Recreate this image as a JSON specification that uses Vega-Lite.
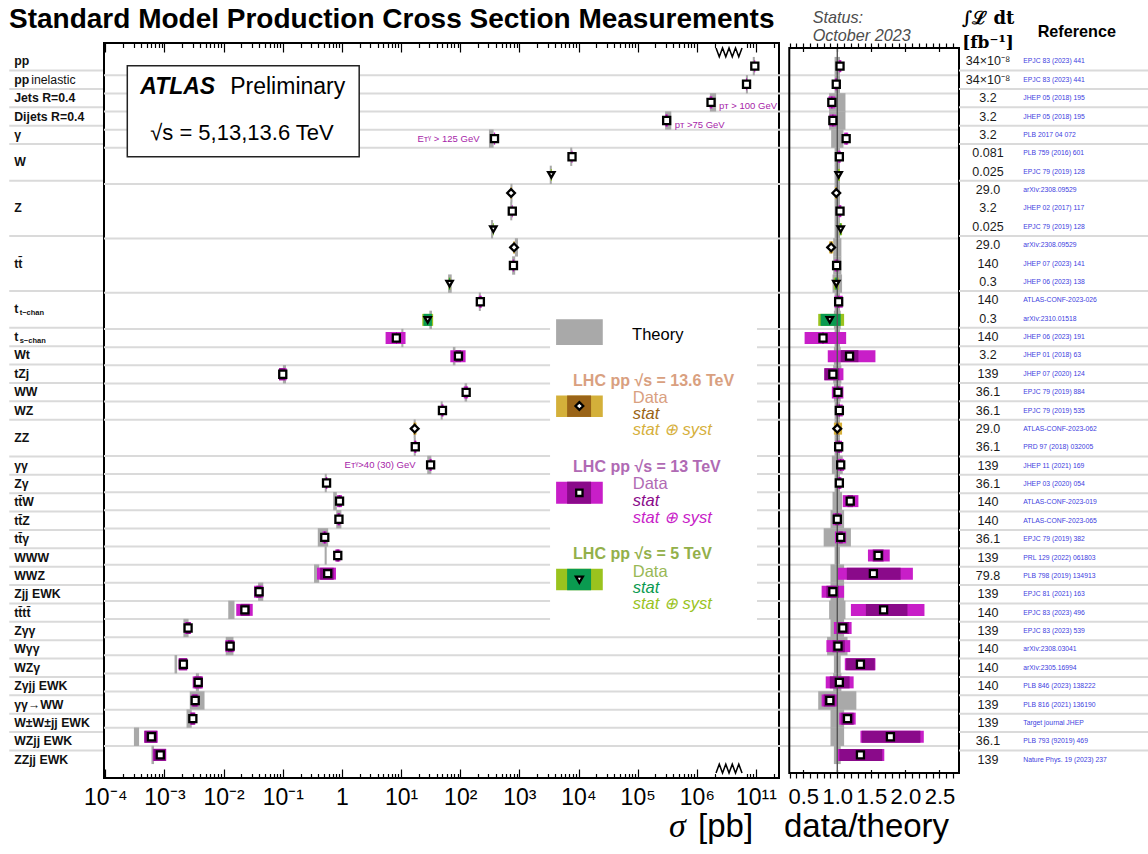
{
  "$schema": "https://vega.github.io/schema/vega-lite/v6.json",
  "background": "white",
  "padding": {"left": 0, "top": 5, "right": 0, "bottom": 0},
  "spacing": 0,
  "bounds": "flush",
  "config": {"view": {"stroke": null}, "font": "Liberation Sans"},
  "datasets": {
    "xs": [
      {"row":0,"proc":"pp","sub":"","note":"","E":"13","sigma":9.55e6,"th_lo":8.82e6,"th_hi":9.55e6,"tot_lo":9.37e6,"tot_hi":9.73e6,"st_lo":9.5e6,"st_hi":9.59e6,"ratio":1.04,"th_rlo":0.96,"th_rhi":1.04,"tot_rlo":1.02,"tot_rhi":1.06,"st_rlo":1.035,"st_rhi":1.045,"lumi":"34×10⁻⁸","ref":"EPJC 83 (2023) 441","cut_r":"","cut_l":""},
      {"row":1,"proc":"pp","sub":"","note":"inelastic","E":"13","sigma":6.92e6,"th_lo":6.75e6,"th_hi":7.31e6,"tot_lo":6.78e6,"tot_hi":7.06e6,"st_lo":6.89e6,"st_hi":6.96e6,"ratio":0.985,"th_rlo":0.96,"th_rhi":1.04,"tot_rlo":0.965,"tot_rhi":1.005,"st_rlo":0.98,"st_rhi":0.99,"lumi":"34×10⁻⁸","ref":"EPJC 83 (2023) 441","cut_r":"","cut_l":""},
      {"row":2,"proc":"Jets R=0.4","sub":"","note":"","E":"13","sigma":1.738e6,"th_lo":1.662e6,"th_hi":2.116e6,"tot_lo":1.643e6,"tot_hi":1.832e6,"st_lo":1.719e6,"st_hi":1.757e6,"ratio":0.92,"th_rlo":0.88,"th_rhi":1.12,"tot_rlo":0.87,"tot_rhi":0.97,"st_rlo":0.91,"st_rhi":0.93,"lumi":"3.2","ref":"JHEP 05 (2018) 195","cut_r":"pᴛ > 100 GeV","cut_l":""},
      {"row":3,"proc":"Dijets R=0.4","sub":"","note":"","E":"13","sigma":3.09e5,"th_lo":2.908e5,"th_hi":3.702e5,"tot_lo":2.925e5,"tot_hi":3.255e5,"st_lo":3.057e5,"st_hi":3.123e5,"ratio":0.935,"th_rlo":0.88,"th_rhi":1.12,"tot_rlo":0.885,"tot_rhi":0.985,"st_rlo":0.925,"st_rhi":0.945,"lumi":"3.2","ref":"JHEP 05 (2018) 195","cut_r":"pᴛ >75 GeV","cut_l":""},
      {"row":4,"proc":"γ","sub":"","note":"","E":"13","sigma":380,"th_lo":306,"th_hi":366.6,"tot_lo":370,"tot_hi":390,"st_lo":378.3,"st_hi":381.7,"ratio":1.13,"th_rlo":0.91,"th_rhi":1.09,"tot_rlo":1.1,"tot_rhi":1.16,"st_rlo":1.125,"st_rhi":1.135,"lumi":"3.2","ref":"PLB 2017 04 072","cut_r":"","cut_l":"Eᴛᵞ > 125 GeV"},
      {"row":5,"proc":"W","sub":"","note":"","E":"13","sigma":7762,"th_lo":7235,"th_hi":7837,"tot_lo":7611,"tot_hi":7913,"st_lo":7747,"st_hi":7777,"ratio":1.03,"th_rlo":0.96,"th_rhi":1.04,"tot_rlo":1.01,"tot_rhi":1.05,"st_rlo":1.028,"st_rhi":1.032,"lumi":"0.081","ref":"PLB 759 (2016) 601","cut_r":"","cut_l":""},
      {"row":6,"proc":"W","sub":"","note":"","E":"5","sigma":3467,"th_lo":3263,"th_hi":3535,"tot_lo":3399,"tot_hi":3535,"st_lo":3460,"st_hi":3474,"ratio":1.02,"th_rlo":0.96,"th_rhi":1.04,"tot_rlo":1.0,"tot_rhi":1.04,"st_rlo":1.018,"st_rhi":1.022,"lumi":"0.025","ref":"EPJC 79 (2019) 128","cut_r":"","cut_l":""},
      {"row":7,"proc":"Z","sub":"","note":"","E":"13.6","sigma":724,"th_lo":705.6,"th_hi":764.4,"tot_lo":709.3,"tot_hi":738.7,"st_lo":722.5,"st_hi":725.4,"ratio":0.985,"th_rlo":0.96,"th_rhi":1.04,"tot_rlo":0.965,"tot_rhi":1.005,"st_rlo":0.983,"st_rhi":0.987,"lumi":"29.0","ref":"arXiv:2308.09529","cut_r":"","cut_l":""},
      {"row":8,"proc":"Z","sub":"","note":"","E":"13","sigma":759,"th_lo":700.6,"th_hi":759,"tot_lo":744.4,"tot_hi":773.6,"st_lo":757.5,"st_hi":760.5,"ratio":1.04,"th_rlo":0.96,"th_rhi":1.04,"tot_rlo":1.02,"tot_rhi":1.06,"st_rlo":1.038,"st_rhi":1.042,"lumi":"3.2","ref":"JHEP 02 (2017) 117","cut_r":"","cut_l":""},
      {"row":9,"proc":"Z","sub":"","note":"","E":"5","sigma":363,"th_lo":331.9,"th_hi":359.5,"tot_lo":356.1,"tot_hi":369.9,"st_lo":361.3,"st_hi":364.7,"ratio":1.05,"th_rlo":0.96,"th_rhi":1.04,"tot_rlo":1.03,"tot_rhi":1.07,"st_rlo":1.045,"st_rhi":1.055,"lumi":"0.025","ref":"EPJC 79 (2019) 128","cut_r":"","cut_l":""},
      {"row":10,"proc":"tt̄","sub":"","note":"","E":"13.6","sigma":813,"th_lo":839.8,"th_hi":947,"tot_lo":786.2,"tot_hi":839.8,"st_lo":804,"st_hi":822,"ratio":0.91,"th_rlo":0.94,"th_rhi":1.06,"tot_rlo":0.88,"tot_rhi":0.94,"st_rlo":0.9,"st_rhi":0.92,"lumi":"29.0","ref":"arXiv:2308.09529","cut_r":"","cut_l":""},
      {"row":11,"proc":"tt̄","sub":"","note":"","E":"13","sigma":794,"th_lo":753.9,"th_hi":850.1,"tot_lo":769.9,"tot_hi":818,"st_lo":790,"st_hi":798,"ratio":0.99,"th_rlo":0.94,"th_rhi":1.06,"tot_rlo":0.96,"tot_rhi":1.02,"st_rlo":0.985,"st_rhi":0.995,"lumi":"140","ref":"JHEP 07 (2023) 141","cut_r":"","cut_l":""},
      {"row":12,"proc":"tt̄","sub":"","note":"","E":"5","sigma":66.1,"th_lo":62.4,"th_hi":71.8,"tot_lo":63.75,"tot_hi":68.4,"st_lo":65.1,"st_hi":67.1,"ratio":0.985,"th_rlo":0.93,"th_rhi":1.07,"tot_rlo":0.95,"tot_rhi":1.02,"st_rlo":0.97,"st_rhi":1.0,"lumi":"0.3","ref":"JHEP 06 (2023) 138","cut_r":"","cut_l":""},
      {"row":13,"proc":"t","sub":"t−chan","note":"","E":"13","sigma":219,"th_lo":206.1,"th_hi":223.3,"tot_lo":206.1,"tot_hi":231.9,"st_lo":216.9,"st_hi":221.1,"ratio":1.02,"th_rlo":0.96,"th_rhi":1.04,"tot_rlo":0.96,"tot_rhi":1.08,"st_rlo":1.01,"st_rhi":1.03,"lumi":"140","ref":"ATLAS-CONF-2023-026","cut_r":"","cut_l":""},
      {"row":14,"proc":"t","sub":"t−chan","note":"","E":"5","sigma":28.2,"th_lo":30.1,"th_hi":33.3,"tot_lo":22.82,"tot_hi":34.86,"st_lo":23.93,"st_hi":33.27,"ratio":0.89,"th_rlo":0.95,"th_rhi":1.05,"tot_rlo":0.72,"tot_rhi":1.1,"st_rlo":0.755,"st_rhi":1.05,"lumi":"0.3","ref":"arXiv:2310.01518","cut_r":"","cut_l":""},
      {"row":15,"proc":"t","sub":"s−chan","note":"","E":"13","sigma":8.32,"th_lo":10.11,"th_hi":10.95,"tot_lo":5.476,"tot_hi":11.9,"st_lo":8.21,"st_hi":8.42,"ratio":0.79,"th_rlo":0.96,"th_rhi":1.04,"tot_rlo":0.52,"tot_rhi":1.13,"st_rlo":0.78,"st_rhi":0.8,"lumi":"140","ref":"JHEP 06 (2023) 191","cut_r":"","cut_l":""},
      {"row":16,"proc":"Wt","sub":"","note":"","E":"13","sigma":93.3,"th_lo":75.1,"th_hi":83.0,"tot_lo":68.0,"tot_hi":123.3,"st_lo":83.0,"st_hi":103.6,"ratio":1.18,"th_rlo":0.95,"th_rhi":1.05,"tot_rlo":0.86,"tot_rhi":1.56,"st_rlo":1.05,"st_rhi":1.31,"lumi":"3.2","ref":"JHEP 01 (2018) 63","cut_r":"","cut_l":""},
      {"row":17,"proc":"tZj","sub":"","note":"","E":"13","sigma":0.1,"th_lo":0.1006,"th_hi":0.1134,"tot_lo":0.0866,"tot_hi":0.1166,"st_lo":0.0866,"st_hi":0.1102,"ratio":0.935,"th_rlo":0.94,"th_rhi":1.06,"tot_rlo":0.81,"tot_rhi":1.09,"st_rlo":0.81,"st_rhi":1.03,"lumi":"139","ref":"JHEP 07 (2020) 124","cut_r":"","cut_l":""},
      {"row":18,"proc":"WW","sub":"","note":"","E":"13","sigma":126,"th_lo":118.5,"th_hi":131,"tot_lo":114.8,"tot_hi":136,"st_lo":123.5,"st_hi":128.5,"ratio":1.01,"th_rlo":0.95,"th_rhi":1.05,"tot_rlo":0.92,"tot_rhi":1.09,"st_rlo":0.99,"st_rhi":1.03,"lumi":"36.1","ref":"EPJC 79 (2019) 884","cut_r":"","cut_l":""},
      {"row":19,"proc":"WZ","sub":"","note":"","E":"13","sigma":50.1,"th_lo":46.7,"th_hi":50.6,"tot_lo":47.67,"tot_hi":52.53,"st_lo":49.6,"st_hi":50.6,"ratio":1.03,"th_rlo":0.96,"th_rhi":1.04,"tot_rlo":0.98,"tot_rhi":1.08,"st_rlo":1.02,"st_rhi":1.04,"lumi":"36.1","ref":"EPJC 79 (2019) 535","cut_r":"","cut_l":""},
      {"row":20,"proc":"ZZ","sub":"","note":"","E":"13.6","sigma":17.0,"th_lo":16.32,"th_hi":17.68,"tot_lo":16.15,"tot_hi":18.19,"st_lo":16.66,"st_hi":17.34,"ratio":1.0,"th_rlo":0.96,"th_rhi":1.04,"tot_rlo":0.95,"tot_rhi":1.07,"st_rlo":0.98,"st_rhi":1.02,"lumi":"29.0","ref":"ATLAS-CONF-2023-062","cut_r":"","cut_l":""},
      {"row":21,"proc":"ZZ","sub":"","note":"","E":"13","sigma":17.4,"th_lo":16.38,"th_hi":17.74,"tot_lo":16.55,"tot_hi":18.25,"st_lo":17.06,"st_hi":17.74,"ratio":1.02,"th_rlo":0.96,"th_rhi":1.04,"tot_rlo":0.97,"tot_rhi":1.07,"st_rlo":1.0,"st_rhi":1.04,"lumi":"36.1","ref":"PRD 97 (2018) 032005","cut_r":"","cut_l":""},
      {"row":22,"proc":"γγ","sub":"","note":"","E":"13","sigma":31.6,"th_lo":27.69,"th_hi":32.51,"tot_lo":30.1,"tot_hi":33.1,"st_lo":31.3,"st_hi":31.9,"ratio":1.05,"th_rlo":0.92,"th_rhi":1.08,"tot_rlo":1.0,"tot_rhi":1.1,"st_rlo":1.04,"st_rhi":1.06,"lumi":"139","ref":"JHEP 11 (2021) 169","cut_r":"","cut_l":"Eᴛᵞ>40 (30) GeV"},
      {"row":23,"proc":"Zγ","sub":"","note":"","E":"13","sigma":0.55,"th_lo":0.5126,"th_hi":0.5554,"tot_lo":0.534,"tot_hi":0.566,"st_lo":0.547,"st_hi":0.553,"ratio":1.03,"th_rlo":0.96,"th_rhi":1.04,"tot_rlo":1.0,"tot_rhi":1.06,"st_rlo":1.025,"st_rhi":1.035,"lumi":"36.1","ref":"JHEP 03 (2020) 054","cut_r":"","cut_l":""},
      {"row":24,"proc":"tt̄W","sub":"","note":"","E":"13","sigma":0.912,"th_lo":0.7128,"th_hi":0.82,"tot_lo":0.8277,"tot_hi":1.004,"st_lo":0.8813,"st_hi":0.9427,"ratio":1.19,"th_rlo":0.93,"th_rhi":1.07,"tot_rlo":1.08,"tot_rhi":1.31,"st_rlo":1.15,"st_rhi":1.23,"lumi":"140","ref":"ATLAS-CONF-2023-019","cut_r":"","cut_l":""},
      {"row":25,"proc":"tt̄Z","sub":"","note":"","E":"13","sigma":0.891,"th_lo":0.802,"th_hi":0.98,"tot_lo":0.833,"tot_hi":0.944,"st_lo":0.864,"st_hi":0.918,"ratio":1.0,"th_rlo":0.9,"th_rhi":1.1,"tot_rlo":0.935,"tot_rhi":1.06,"st_rlo":0.97,"st_rhi":1.03,"lumi":"140","ref":"ATLAS-CONF-2023-065","cut_r":"","cut_l":""},
      {"row":26,"proc":"tt̄γ","sub":"","note":"","E":"13","sigma":0.513,"th_lo":0.3909,"th_hi":0.5863,"tot_lo":0.4715,"tot_hi":0.5521,"st_lo":0.4984,"st_hi":0.5277,"ratio":1.05,"th_rlo":0.8,"th_rhi":1.2,"tot_rlo":0.965,"tot_rhi":1.13,"st_rlo":1.02,"st_rhi":1.08,"lumi":"36.1","ref":"EPJC 79 (2019) 382","cut_r":"","cut_l":""},
      {"row":27,"proc":"WWW","sub":"","note":"","E":"13","sigma":0.851,"th_lo":0.5106,"th_hi":0.5532,"tot_lo":0.7712,"tot_hi":0.9414,"st_lo":0.8085,"st_hi":0.8935,"ratio":1.6,"th_rlo":0.96,"th_rhi":1.04,"tot_rlo":1.45,"tot_rhi":1.77,"st_rlo":1.52,"st_rhi":1.68,"lumi":"139","ref":"PRL 129 (2022) 061803","cut_r":"","cut_l":""},
      {"row":28,"proc":"WWZ","sub":"","note":"","E":"13","sigma":0.575,"th_lo":0.3382,"th_hi":0.4134,"tot_lo":0.3796,"tot_hi":0.793,"st_lo":0.4284,"st_hi":0.7253,"ratio":1.53,"th_rlo":0.9,"th_rhi":1.1,"tot_rlo":1.01,"tot_rhi":2.11,"st_rlo":1.14,"st_rhi":1.93,"lumi":"79.8","ref":"PLB 798 (2019) 134913","cut_r":"","cut_l":""},
      {"row":29,"proc":"Zjj EWK","sub":"","note":"","E":"13","sigma":0.0398,"th_lo":0.03831,"th_hi":0.04683,"tot_lo":0.03278,"tot_hi":0.04683,"st_lo":0.03576,"st_hi":0.04342,"ratio":0.935,"th_rlo":0.9,"th_rhi":1.1,"tot_rlo":0.77,"tot_rhi":1.1,"st_rlo":0.84,"st_rhi":1.02,"lumi":"139","ref":"EPJC 81 (2021) 163","cut_r":"","cut_l":""},
      {"row":30,"proc":"tt̄tt̄","sub":"","note":"","E":"13","sigma":0.0229,"th_lo":0.01199,"th_hi":0.01527,"tot_lo":0.01636,"tot_hi":0.03108,"st_lo":0.01936,"st_hi":0.02767,"ratio":1.68,"th_rlo":0.88,"th_rhi":1.12,"tot_rlo":1.2,"tot_rhi":2.28,"st_rlo":1.42,"st_rhi":2.03,"lumi":"140","ref":"EPJC 83 (2023) 496","cut_r":"","cut_l":""},
      {"row":31,"proc":"Zγγ","sub":"","note":"","E":"13","sigma":0.00251,"th_lo":0.002092,"th_hi":0.002556,"tot_lo":0.002208,"tot_hi":0.002812,"st_lo":0.002324,"st_hi":0.002719,"ratio":1.08,"th_rlo":0.9,"th_rhi":1.1,"tot_rlo":0.95,"tot_rhi":1.21,"st_rlo":1.0,"st_rhi":1.17,"lumi":"139","ref":"EPJC 83 (2023) 539","cut_r":"","cut_l":""},
      {"row":32,"proc":"Wγγ","sub":"","note":"","E":"13","sigma":0.0129,"th_lo":0.01086,"th_hi":0.01469,"tot_lo":0.01073,"tot_hi":0.0152,"st_lo":0.01188,"st_hi":0.01418,"ratio":1.01,"th_rlo":0.85,"th_rhi":1.15,"tot_rlo":0.84,"tot_rhi":1.19,"st_rlo":0.93,"st_rhi":1.11,"lumi":"140","ref":"arXiv:2308.03041","cut_r":"","cut_l":""},
      {"row":33,"proc":"WZγ","sub":"","note":"","E":"13","sigma":0.00209,"th_lo":0.001482,"th_hi":0.001638,"tot_lo":0.001731,"tot_hi":0.002433,"st_lo":0.001763,"st_hi":0.002418,"ratio":1.34,"th_rlo":0.95,"th_rhi":1.05,"tot_rlo":1.11,"tot_rhi":1.56,"st_rlo":1.13,"st_rhi":1.55,"lumi":"140","ref":"arXiv:2305.16994","cut_r":"","cut_l":""},
      {"row":34,"proc":"Zγjj EWK","sub":"","note":"","E":"13","sigma":0.00372,"th_lo":0.003395,"th_hi":0.003829,"tot_lo":0.002998,"tot_hi":0.004479,"st_lo":0.003215,"st_hi":0.004262,"ratio":1.03,"th_rlo":0.94,"th_rhi":1.06,"tot_rlo":0.83,"tot_rhi":1.24,"st_rlo":0.89,"st_rhi":1.18,"lumi":"140","ref":"PLB 846 (2023) 138222","cut_r":"","cut_l":""},
      {"row":35,"proc":"γγ→WW","sub":"","note":"","E":"13","sigma":0.00331,"th_lo":0.002678,"th_hi":0.00476,"tot_lo":0.002864,"tot_hi":0.003756,"st_lo":0.002975,"st_hi":0.003607,"ratio":0.89,"th_rlo":0.72,"th_rhi":1.28,"tot_rlo":0.77,"tot_rhi":1.01,"st_rlo":0.8,"st_rhi":0.97,"lumi":"139","ref":"PLB 816 (2021) 136190","cut_r":"","cut_l":""},
      {"row":36,"proc":"W±W±jj EWK","sub":"","note":"","E":"13","sigma":0.00302,"th_lo":0.002363,"th_hi":0.002889,"tot_lo":0.002705,"tot_hi":0.003335,"st_lo":0.002784,"st_hi":0.003256,"ratio":1.15,"th_rlo":0.9,"th_rhi":1.1,"tot_rlo":1.03,"tot_rhi":1.27,"st_rlo":1.06,"st_rhi":1.24,"lumi":"139","ref":"Target journal JHEP","cut_r":"","cut_l":""},
      {"row":37,"proc":"WZjj EWK","sub":"","note":"","E":"13","sigma":0.000603,"th_lo":0.0003049,"th_hi":0.0003727,"tot_lo":0.000454,"tot_hi":0.000769,"st_lo":0.0004608,"st_hi":0.0007521,"ratio":1.78,"th_rlo":0.9,"th_rhi":1.1,"tot_rlo":1.34,"tot_rhi":2.27,"st_rlo":1.36,"st_rhi":2.22,"lumi":"36.1","ref":"PLB 793 (92019) 469","cut_r":"","cut_l":""},
      {"row":38,"proc":"ZZjj EWK","sub":"","note":"","E":"13","sigma":0.000851,"th_lo":0.0006033,"th_hi":0.0006668,"tot_lo":0.0006351,"tot_hi":0.001073,"st_lo":0.0006541,"st_hi":0.001054,"ratio":1.34,"th_rlo":0.95,"th_rhi":1.05,"tot_rlo":1.0,"tot_rhi":1.69,"st_rlo":1.03,"st_rhi":1.66,"lumi":"139","ref":"Nature Phys. 19 (2023) 237","cut_r":"","cut_l":""}
    ]
  },
  "hconcat": [
    {
      "width": 103, "height": 735,
      "view": {"stroke": "transparent", "fill": "transparent"},
      "layer": [
        {"data": {"name": "xs"},
         "transform": [{"aggregate": [{"op": "max", "field": "row", "as": "last"}], "groupby": ["proc", "sub", "note"]}, {"filter": "datum.last < 38"}],
         "mark": {"type": "rule", "color": "#dadada", "strokeWidth": 2, "yOffset": 9.19},
         "encoding": {"x": {"datum": 0.08, "type": "quantitative", "scale": {"domain": [0, 1], "nice": false, "zero": false}, "axis": null}, "x2": {"datum": 1},
                      "y": {"field": "last", "type": "quantitative", "scale": {"domain": [-1, 39], "reverse": true, "nice": false, "zero": false}, "axis": null}}},
        {"data": {"name": "xs"},
         "transform": [{"aggregate": [{"op": "mean", "field": "row", "as": "mrow"}], "groupby": ["proc", "sub", "note"]}],
         "mark": {"type": "text", "align": "left", "baseline": "middle", "fontSize": 12.3, "fontWeight": "bold", "color": "#111111"},
         "encoding": {"x": {"datum": 0.128, "type": "quantitative", "scale": {"domain": [0, 1], "nice": false, "zero": false}, "axis": null},
                      "y": {"field": "mrow", "type": "quantitative", "scale": {"domain": [-1, 39], "reverse": true, "nice": false, "zero": false}, "axis": null},
                      "text": {"field": "proc"}}},
        {"data": {"name": "xs"},
         "transform": [{"aggregate": [{"op": "mean", "field": "row", "as": "mrow"}], "groupby": ["proc", "sub", "note"]}, {"filter": "datum.sub !== ''"}],
         "mark": {"type": "text", "align": "left", "baseline": "middle", "fontSize": 7.5, "fontWeight": "bold", "color": "#111111", "dx": 5.5, "dy": 4},
         "encoding": {"x": {"datum": 0.128, "type": "quantitative", "scale": {"domain": [0, 1], "nice": false, "zero": false}, "axis": null},
                      "y": {"field": "mrow", "type": "quantitative", "scale": {"domain": [-1, 39], "reverse": true, "nice": false, "zero": false}, "axis": null},
                      "text": {"field": "sub"}}},
        {"data": {"name": "xs"},
         "transform": [{"aggregate": [{"op": "mean", "field": "row", "as": "mrow"}], "groupby": ["proc", "sub", "note"]}, {"filter": "datum.note !== ''"}],
         "mark": {"type": "text", "align": "left", "baseline": "middle", "fontSize": 12.3, "color": "#111111", "dx": 17},
         "encoding": {"x": {"datum": 0.128, "type": "quantitative", "scale": {"domain": [0, 1], "nice": false, "zero": false}, "axis": null},
                      "y": {"field": "mrow", "type": "quantitative", "scale": {"domain": [-1, 39], "reverse": true, "nice": false, "zero": false}, "axis": null},
                      "text": {"field": "note"}}},
        {"data": {"values": [{}]},
         "mark": {"type": "text", "align": "left", "baseline": "alphabetic", "fontSize": 28, "fontWeight": "bold", "color": "black", "text": "Standard Model Production Cross Section Measurements"},
         "encoding": {"x": {"datum": 0.0777, "type": "quantitative", "scale": {"domain": [0, 1], "nice": false, "zero": false}, "axis": null},
                      "y": {"datum": -1.816, "type": "quantitative", "scale": {"domain": [-1, 39], "reverse": true, "nice": false, "zero": false}, "axis": null}}}
      ]
    },
    {
      "width": 675, "height": 735,
      "view": {"stroke": "black", "strokeWidth": 2},
      "resolve": {"axis": {"x": "independent"}},
      "layer": [
        {"data": {"name": "xs"},
         "transform": [{"aggregate": [{"op": "max", "field": "row", "as": "last"}], "groupby": ["proc", "sub", "note"]}, {"filter": "datum.last < 38"}],
         "mark": {"type": "rule", "color": "#dadada", "strokeWidth": 2, "yOffset": 9.19},
         "encoding": {"y": {"field": "last", "type": "quantitative", "scale": {"domain": [-1, 39], "reverse": true, "nice": false, "zero": false}, "axis": null}}},
        {"data": {"name": "xs"},
         "mark": {"type": "bar", "orient": "horizontal", "size": 18.4, "color": "#a9a9a9"},
         "encoding": {"x": {"field": "th_lo", "type": "quantitative", "scale": {"type": "log", "domain": [9.51e-5, 2.449e7], "nice": false, "zero": false},
                            "axis": {"orient": "top", "values": [0.0001,0.0002,0.0003,0.0004,0.0005,0.0006,0.0007,0.0008,0.0009,0.001,0.002,0.003,0.004,0.005,0.006,0.007,0.008,0.009,0.01,0.02,0.03,0.04,0.05,0.06,0.07,0.08,0.09,0.1,0.2,0.3,0.4,0.5,0.6,0.7,0.8,0.9,1,2,3,4,5,6,7,8,9,10,20,30,40,50,60,70,80,90,100,200,300,400,500,600,700,800,900,1000,2000,3000,4000,5000,6000,7000,8000,9000,10000,20000,30000,40000,50000,60000,70000,80000,90000,100000,200000,300000,400000,500000,600000,700000,800000,900000,1000000,2000000,7000000,8000000,9000000,10000000,20000000],
                                     "domain": false, "grid": false, "labels": false, "title": null, "tickColor": "black", "tickWidth": 1.2,
                                     "tickSize": {"condition": {"test": "abs(log(datum.value)/LN10 - round(log(datum.value)/LN10)) < 0.01", "value": -9}, "value": -4.5}}},
                      "x2": {"field": "th_hi"},
                      "y": {"field": "row", "type": "quantitative", "scale": {"domain": [-1, 39], "reverse": true, "nice": false, "zero": false}, "axis": null}}},
        {"data": {"name": "xs"},
         "mark": {"type": "bar", "orient": "horizontal", "size": 12},
         "encoding": {"x": {"field": "tot_lo", "type": "quantitative", "scale": {"type": "log", "domain": [9.51e-5, 2.449e7], "nice": false, "zero": false}, "axis": null},
                      "x2": {"field": "tot_hi"},
                      "y": {"field": "row", "type": "quantitative", "scale": {"domain": [-1, 39], "reverse": true, "nice": false, "zero": false}, "axis": null},
                      "color": {"condition": [{"test": "datum.E === '13.6'", "value": "#d6b03c"}, {"test": "datum.E === '5'", "value": "#9ac31e"}], "value": "#c81ec8"}}},
        {"data": {"name": "xs"},
         "mark": {"type": "bar", "orient": "horizontal", "size": 12},
         "encoding": {"x": {"field": "st_lo", "type": "quantitative", "scale": {"type": "log", "domain": [9.51e-5, 2.449e7], "nice": false, "zero": false}, "axis": null},
                      "x2": {"field": "st_hi"},
                      "y": {"field": "row", "type": "quantitative", "scale": {"domain": [-1, 39], "reverse": true, "nice": false, "zero": false}, "axis": null},
                      "color": {"condition": [{"test": "datum.E === '13.6'", "value": "#9a6414"}, {"test": "datum.E === '5'", "value": "#0a9a50"}], "value": "#8a0a8a"}}},
        {"data": {"name": "xs"},
         "transform": [{"filter": "datum.cut_r !== ''"}],
         "mark": {"type": "text", "align": "left", "baseline": "middle", "dx": 8, "dy": 4, "fontSize": 9.5, "color": "#a624a8"},
         "encoding": {"x": {"field": "sigma", "type": "quantitative", "scale": {"type": "log", "domain": [9.51e-5, 2.449e7], "nice": false, "zero": false}, "axis": null},
                      "y": {"field": "row", "type": "quantitative", "scale": {"domain": [-1, 39], "reverse": true, "nice": false, "zero": false}, "axis": null},
                      "text": {"field": "cut_r"}}},
        {"data": {"name": "xs"},
         "transform": [{"filter": "datum.cut_l !== ''"}],
         "mark": {"type": "text", "align": "right", "baseline": "middle", "dx": -15, "fontSize": 9.5, "color": "#a624a8"},
         "encoding": {"x": {"field": "sigma", "type": "quantitative", "scale": {"type": "log", "domain": [9.51e-5, 2.449e7], "nice": false, "zero": false}, "axis": null},
                      "y": {"field": "row", "type": "quantitative", "scale": {"domain": [-1, 39], "reverse": true, "nice": false, "zero": false}, "axis": null},
                      "text": {"field": "cut_l"}}},
        {"data": {"name": "xs"},
         "mark": {"type": "point", "filled": true, "fill": "white", "stroke": "black", "strokeWidth": 2.3, "opacity": 1},
         "encoding": {"x": {"field": "sigma", "type": "quantitative", "scale": {"type": "log", "domain": [9.51e-5, 2.449e7], "nice": false, "zero": false},
                            "axis": {"orient": "bottom", "values": [0.0001,0.0002,0.0003,0.0004,0.0005,0.0006,0.0007,0.0008,0.0009,0.001,0.002,0.003,0.004,0.005,0.006,0.007,0.008,0.009,0.01,0.02,0.03,0.04,0.05,0.06,0.07,0.08,0.09,0.1,0.2,0.3,0.4,0.5,0.6,0.7,0.8,0.9,1,2,3,4,5,6,7,8,9,10,20,30,40,50,60,70,80,90,100,200,300,400,500,600,700,800,900,1000,2000,3000,4000,5000,6000,7000,8000,9000,10000,20000,30000,40000,50000,60000,70000,80000,90000,100000,200000,300000,400000,500000,600000,700000,800000,900000,1000000,2000000,7000000,8000000,9000000,10000000,20000000],
                                     "domain": false, "grid": false, "title": null, "tickColor": "black", "tickWidth": 1.2,
                                     "tickSize": {"condition": {"test": "abs(log(datum.value)/LN10 - round(log(datum.value)/LN10)) < 0.01", "value": -9}, "value": -4.5},
                                     "labelExpr": "abs(log(datum.value)/LN10 - round(log(datum.value)/LN10)) > 0.01 ? '' : (datum.value > 5000000 ? '10¹¹' : ['10⁻⁴','10⁻³','10⁻²','10⁻¹','1','10¹','10²','10³','10⁴','10⁵','10⁶'][round(log(datum.value)/LN10) + 4])",
                                     "labelFont": "Liberation Sans Narrow, Liberation Sans", "labelFontSize": 23, "labelColor": "black", "labelPadding": 17, "labelOverlap": false, "labelFlush": false, "labelBound": false}},
                      "y": {"field": "row", "type": "quantitative", "scale": {"domain": [-1, 39], "reverse": true, "nice": false, "zero": false}, "axis": null},
                      "shape": {"field": "E", "type": "nominal", "scale": {"domain": ["13.6", "13", "5"], "range": ["diamond", "square", "triangle-down"]}, "legend": null},
                      "size": {"field": "E", "type": "nominal", "scale": {"domain": ["13.6", "13", "5"], "range": [60, 40, 48]}, "legend": null}}},
        {"data": {"values": [{}]},
         "mark": {"type": "rect", "fill": "white", "stroke": "#222222", "strokeWidth": 1.5},
         "encoding": {"x": {"datum": 0.0002355, "type": "quantitative", "scale": {"type": "log", "domain": [9.51e-5, 2.449e7], "nice": false, "zero": false}, "axis": null}, "x2": {"datum": 1.959},
                      "y": {"datum": -0.02, "type": "quantitative", "scale": {"domain": [-1, 39], "reverse": true, "nice": false, "zero": false}, "axis": null}, "y2": {"datum": 5.0}}},
        {"data": {"values": [{}]},
         "mark": {"type": "text", "align": "left", "baseline": "middle", "fontSize": 23, "fontWeight": "bold", "fontStyle": "italic", "color": "black", "text": "ATLAS"},
         "encoding": {"x": {"datum": 0.00039, "type": "quantitative", "scale": {"type": "log", "domain": [9.51e-5, 2.449e7], "nice": false, "zero": false}, "axis": null},
                      "y": {"datum": 1.177, "type": "quantitative", "scale": {"domain": [-1, 39], "reverse": true, "nice": false, "zero": false}, "axis": null}}},
        {"data": {"values": [{}]},
         "mark": {"type": "text", "align": "left", "baseline": "middle", "fontSize": 23, "color": "black", "text": "Preliminary"},
         "encoding": {"x": {"datum": 0.01294, "type": "quantitative", "scale": {"type": "log", "domain": [9.51e-5, 2.449e7], "nice": false, "zero": false}, "axis": null},
                      "y": {"datum": 1.177, "type": "quantitative", "scale": {"domain": [-1, 39], "reverse": true, "nice": false, "zero": false}, "axis": null}}},
        {"data": {"values": [{}]},
         "mark": {"type": "text", "align": "left", "baseline": "middle", "fontSize": 22, "color": "black", "text": "√s = 5,13,13.6 TeV"},
         "encoding": {"x": {"datum": 0.000575, "type": "quantitative", "scale": {"type": "log", "domain": [9.51e-5, 2.449e7], "nice": false, "zero": false}, "axis": null},
                      "y": {"datum": 3.68, "type": "quantitative", "scale": {"domain": [-1, 39], "reverse": true, "nice": false, "zero": false}, "axis": null}}},
        {"data": {"values": [{}]},
         "mark": {"type": "rect", "fill": "white"},
         "encoding": {"x": {"datum": 3304, "type": "quantitative", "scale": {"type": "log", "domain": [9.51e-5, 2.449e7], "nice": false, "zero": false}, "axis": null}, "x2": {"datum": 10400000},
                      "y": {"datum": 13.313, "type": "quantitative", "scale": {"domain": [-1, 39], "reverse": true, "nice": false, "zero": false}, "axis": null}, "y2": {"datum": 30.728}}},
        {"data": {"values": [{}]},
         "mark": {"type": "rect", "fill": "#a9a9a9"},
         "encoding": {"x": {"datum": 4178, "type": "quantitative", "scale": {"type": "log", "domain": [9.51e-5, 2.449e7], "nice": false, "zero": false}, "axis": null}, "x2": {"datum": 25700},
                      "y": {"datum": 13.966, "type": "quantitative", "scale": {"domain": [-1, 39], "reverse": true, "nice": false, "zero": false}, "axis": null}, "y2": {"datum": 15.381}}},
        {"data": {"values": [{}]},
         "mark": {"type": "text", "align": "left", "baseline": "middle", "fontSize": 16.5, "color": "black", "text": "Theory"},
         "encoding": {"x": {"datum": 80400, "type": "quantitative", "scale": {"type": "log", "domain": [9.51e-5, 2.449e7], "nice": false, "zero": false}, "axis": null},
                      "y": {"datum": 14.837, "type": "quantitative", "scale": {"domain": [-1, 39], "reverse": true, "nice": false, "zero": false}, "axis": null}}},
        {"data": {"values": [{}]},
         "mark": {"type": "text", "align": "left", "baseline": "middle", "fontSize": 16, "fontWeight": "bold", "color": "#d9a080", "text": "LHC pp  √s = 13.6 TeV"},
         "encoding": {"x": {"datum": 8090, "type": "quantitative", "scale": {"type": "log", "domain": [9.51e-5, 2.449e7], "nice": false, "zero": false}, "axis": null},
                      "y": {"datum": 17.395, "type": "quantitative", "scale": {"domain": [-1, 39], "reverse": true, "nice": false, "zero": false}, "axis": null}}},
        {"data": {"values": [{}]},
         "mark": {"type": "rect", "fill": "#d4b03a"},
         "encoding": {"x": {"datum": 4178, "type": "quantitative", "scale": {"type": "log", "domain": [9.51e-5, 2.449e7], "nice": false, "zero": false}, "axis": null}, "x2": {"datum": 25700},
                      "y": {"datum": 18.173, "type": "quantitative", "scale": {"domain": [-1, 39], "reverse": true, "nice": false, "zero": false}, "axis": null}, "y2": {"datum": 19.354}}},
        {"data": {"values": [{}]},
         "mark": {"type": "rect", "fill": "#9a6418"},
         "encoding": {"x": {"datum": 6412, "type": "quantitative", "scale": {"type": "log", "domain": [9.51e-5, 2.449e7], "nice": false, "zero": false}, "axis": null}, "x2": {"datum": 16290},
                      "y": {"datum": 18.173, "type": "quantitative", "scale": {"domain": [-1, 39], "reverse": true, "nice": false, "zero": false}, "axis": null}, "y2": {"datum": 19.354}}},
        {"data": {"values": [{}]},
         "mark": {"type": "point", "shape": "diamond", "filled": true, "fill": "white", "stroke": "black", "strokeWidth": 2.3, "size": 60, "opacity": 1},
         "encoding": {"x": {"datum": 10330, "type": "quantitative", "scale": {"type": "log", "domain": [9.51e-5, 2.449e7], "nice": false, "zero": false}, "axis": null},
                      "y": {"datum": 18.755, "type": "quantitative", "scale": {"domain": [-1, 39], "reverse": true, "nice": false, "zero": false}, "axis": null}}},
        {"data": {"values": [{}]},
         "mark": {"type": "text", "align": "left", "baseline": "middle", "fontSize": 16.5, "color": "#d9a080", "text": "Data"},
         "encoding": {"x": {"datum": 82600, "type": "quantitative", "scale": {"type": "log", "domain": [9.51e-5, 2.449e7], "nice": false, "zero": false}, "axis": null},
                      "y": {"datum": 18.303, "type": "quantitative", "scale": {"domain": [-1, 39], "reverse": true, "nice": false, "zero": false}, "axis": null}}},
        {"data": {"values": [{}]},
         "mark": {"type": "text", "align": "left", "baseline": "middle", "fontSize": 16.5, "fontStyle": "italic", "color": "#9a6414", "text": "stat"},
         "encoding": {"x": {"datum": 82600, "type": "quantitative", "scale": {"type": "log", "domain": [9.51e-5, 2.449e7], "nice": false, "zero": false}, "axis": null},
                      "y": {"datum": 19.19, "type": "quantitative", "scale": {"domain": [-1, 39], "reverse": true, "nice": false, "zero": false}, "axis": null}}},
        {"data": {"values": [{}]},
         "mark": {"type": "text", "align": "left", "baseline": "middle", "fontSize": 16.5, "fontStyle": "italic", "color": "#d6b03c", "text": "stat ⊕ syst"},
         "encoding": {"x": {"datum": 82600, "type": "quantitative", "scale": {"type": "log", "domain": [9.51e-5, 2.449e7], "nice": false, "zero": false}, "axis": null},
                      "y": {"datum": 20.061, "type": "quantitative", "scale": {"domain": [-1, 39], "reverse": true, "nice": false, "zero": false}, "axis": null}}},
        {"data": {"values": [{}]},
         "mark": {"type": "text", "align": "left", "baseline": "middle", "fontSize": 16, "fontWeight": "bold", "color": "#b06ab4", "text": "LHC pp  √s = 13 TeV"},
         "encoding": {"x": {"datum": 8090, "type": "quantitative", "scale": {"type": "log", "domain": [9.51e-5, 2.449e7], "nice": false, "zero": false}, "axis": null},
                      "y": {"datum": 22.129, "type": "quantitative", "scale": {"domain": [-1, 39], "reverse": true, "nice": false, "zero": false}, "axis": null}}},
        {"data": {"values": [{}]},
         "mark": {"type": "rect", "fill": "#c81ec8"},
         "encoding": {"x": {"datum": 4178, "type": "quantitative", "scale": {"type": "log", "domain": [9.51e-5, 2.449e7], "nice": false, "zero": false}, "axis": null}, "x2": {"datum": 25700},
                      "y": {"datum": 22.929, "type": "quantitative", "scale": {"domain": [-1, 39], "reverse": true, "nice": false, "zero": false}, "axis": null}, "y2": {"datum": 24.143}}},
        {"data": {"values": [{}]},
         "mark": {"type": "rect", "fill": "#8a0a8a"},
         "encoding": {"x": {"datum": 6412, "type": "quantitative", "scale": {"type": "log", "domain": [9.51e-5, 2.449e7], "nice": false, "zero": false}, "axis": null}, "x2": {"datum": 16290},
                      "y": {"datum": 22.929, "type": "quantitative", "scale": {"domain": [-1, 39], "reverse": true, "nice": false, "zero": false}, "axis": null}, "y2": {"datum": 24.143}}},
        {"data": {"values": [{}]},
         "mark": {"type": "point", "shape": "square", "filled": true, "fill": "white", "stroke": "black", "strokeWidth": 2.3, "size": 40, "opacity": 1},
         "encoding": {"x": {"datum": 10330, "type": "quantitative", "scale": {"type": "log", "domain": [9.51e-5, 2.449e7], "nice": false, "zero": false}, "axis": null},
                      "y": {"datum": 23.544, "type": "quantitative", "scale": {"domain": [-1, 39], "reverse": true, "nice": false, "zero": false}, "axis": null}}},
        {"data": {"values": [{}]},
         "mark": {"type": "text", "align": "left", "baseline": "middle", "fontSize": 16.5, "color": "#b06ab4", "text": "Data"},
         "encoding": {"x": {"datum": 82600, "type": "quantitative", "scale": {"type": "log", "domain": [9.51e-5, 2.449e7], "nice": false, "zero": false}, "axis": null},
                      "y": {"datum": 23.071, "type": "quantitative", "scale": {"domain": [-1, 39], "reverse": true, "nice": false, "zero": false}, "axis": null}}},
        {"data": {"values": [{}]},
         "mark": {"type": "text", "align": "left", "baseline": "middle", "fontSize": 16.5, "fontStyle": "italic", "color": "#8a0a8a", "text": "stat"},
         "encoding": {"x": {"datum": 82600, "type": "quantitative", "scale": {"type": "log", "domain": [9.51e-5, 2.449e7], "nice": false, "zero": false}, "axis": null},
                      "y": {"datum": 24.018, "type": "quantitative", "scale": {"domain": [-1, 39], "reverse": true, "nice": false, "zero": false}, "axis": null}}},
        {"data": {"values": [{}]},
         "mark": {"type": "text", "align": "left", "baseline": "middle", "fontSize": 16.5, "fontStyle": "italic", "color": "#c81ec8", "text": "stat ⊕ syst"},
         "encoding": {"x": {"datum": 82600, "type": "quantitative", "scale": {"type": "log", "domain": [9.51e-5, 2.449e7], "nice": false, "zero": false}, "axis": null},
                      "y": {"datum": 24.921, "type": "quantitative", "scale": {"domain": [-1, 39], "reverse": true, "nice": false, "zero": false}, "axis": null}}},
        {"data": {"values": [{}]},
         "mark": {"type": "text", "align": "left", "baseline": "middle", "fontSize": 16, "fontWeight": "bold", "color": "#93b04a", "text": "LHC pp  √s = 5 TeV"},
         "encoding": {"x": {"datum": 8090, "type": "quantitative", "scale": {"type": "log", "domain": [9.51e-5, 2.449e7], "nice": false, "zero": false}, "axis": null},
                      "y": {"datum": 26.918, "type": "quantitative", "scale": {"domain": [-1, 39], "reverse": true, "nice": false, "zero": false}, "axis": null}}},
        {"data": {"values": [{}]},
         "mark": {"type": "rect", "fill": "#9ac31e"},
         "encoding": {"x": {"datum": 4178, "type": "quantitative", "scale": {"type": "log", "domain": [9.51e-5, 2.449e7], "nice": false, "zero": false}, "axis": null}, "x2": {"datum": 25700},
                      "y": {"datum": 27.735, "type": "quantitative", "scale": {"domain": [-1, 39], "reverse": true, "nice": false, "zero": false}, "axis": null}, "y2": {"datum": 28.916}}},
        {"data": {"values": [{}]},
         "mark": {"type": "rect", "fill": "#0a9a50"},
         "encoding": {"x": {"datum": 6412, "type": "quantitative", "scale": {"type": "log", "domain": [9.51e-5, 2.449e7], "nice": false, "zero": false}, "axis": null}, "x2": {"datum": 16290},
                      "y": {"datum": 27.735, "type": "quantitative", "scale": {"domain": [-1, 39], "reverse": true, "nice": false, "zero": false}, "axis": null}, "y2": {"datum": 28.916}}},
        {"data": {"values": [{}]},
         "mark": {"type": "point", "shape": "triangle-down", "filled": true, "fill": "white", "stroke": "black", "strokeWidth": 2.3, "size": 48, "opacity": 1},
         "encoding": {"x": {"datum": 10330, "type": "quantitative", "scale": {"type": "log", "domain": [9.51e-5, 2.449e7], "nice": false, "zero": false}, "axis": null},
                      "y": {"datum": 28.333, "type": "quantitative", "scale": {"domain": [-1, 39], "reverse": true, "nice": false, "zero": false}, "axis": null}}},
        {"data": {"values": [{}]},
         "mark": {"type": "text", "align": "left", "baseline": "middle", "fontSize": 16.5, "color": "#98b856", "text": "Data"},
         "encoding": {"x": {"datum": 82600, "type": "quantitative", "scale": {"type": "log", "domain": [9.51e-5, 2.449e7], "nice": false, "zero": false}, "axis": null},
                      "y": {"datum": 27.898, "type": "quantitative", "scale": {"domain": [-1, 39], "reverse": true, "nice": false, "zero": false}, "axis": null}}},
        {"data": {"values": [{}]},
         "mark": {"type": "text", "align": "left", "baseline": "middle", "fontSize": 16.5, "fontStyle": "italic", "color": "#0a9a50", "text": "stat"},
         "encoding": {"x": {"datum": 82600, "type": "quantitative", "scale": {"type": "log", "domain": [9.51e-5, 2.449e7], "nice": false, "zero": false}, "axis": null},
                      "y": {"datum": 28.769, "type": "quantitative", "scale": {"domain": [-1, 39], "reverse": true, "nice": false, "zero": false}, "axis": null}}},
        {"data": {"values": [{}]},
         "mark": {"type": "text", "align": "left", "baseline": "middle", "fontSize": 16.5, "fontStyle": "italic", "color": "#9ac31e", "text": "stat ⊕ syst"},
         "encoding": {"x": {"datum": 82600, "type": "quantitative", "scale": {"type": "log", "domain": [9.51e-5, 2.449e7], "nice": false, "zero": false}, "axis": null},
                      "y": {"datum": 29.694, "type": "quantitative", "scale": {"domain": [-1, 39], "reverse": true, "nice": false, "zero": false}, "axis": null}}},
        {"data": {"values": [{"edge": "top", "r": -1}, {"edge": "bottom", "r": 39}]},
         "mark": {"type": "rule", "color": "white", "strokeWidth": 4},
         "encoding": {"x": {"datum": 2112000, "type": "quantitative", "scale": {"type": "log", "domain": [9.51e-5, 2.449e7], "nice": false, "zero": false}, "axis": null}, "x2": {"datum": 5808000},
                      "y": {"field": "r", "type": "quantitative", "scale": {"domain": [-1, 39], "reverse": true, "nice": false, "zero": false}, "axis": null}}},
        {"data": {"values": [
           {"edge": "top", "s": 2112000, "r": -1}, {"edge": "top", "s": 2396000, "r": -0.51}, {"edge": "top", "s": 2719000, "r": -1}, {"edge": "top", "s": 3086000, "r": -0.51}, {"edge": "top", "s": 3502000, "r": -1}, {"edge": "top", "s": 3973000, "r": -0.51}, {"edge": "top", "s": 4508000, "r": -1}, {"edge": "top", "s": 5117000, "r": -0.51}, {"edge": "top", "s": 5808000, "r": -1},
           {"edge": "bottom", "s": 2112000, "r": 39}, {"edge": "bottom", "s": 2396000, "r": 38.51}, {"edge": "bottom", "s": 2719000, "r": 39}, {"edge": "bottom", "s": 3086000, "r": 38.51}, {"edge": "bottom", "s": 3502000, "r": 39}, {"edge": "bottom", "s": 3973000, "r": 38.51}, {"edge": "bottom", "s": 4508000, "r": 39}, {"edge": "bottom", "s": 5117000, "r": 38.51}, {"edge": "bottom", "s": 5808000, "r": 39}]},
         "mark": {"type": "line", "color": "black", "strokeWidth": 1.5},
         "encoding": {"x": {"field": "s", "type": "quantitative", "scale": {"type": "log", "domain": [9.51e-5, 2.449e7], "nice": false, "zero": false}, "axis": null},
                      "y": {"field": "r", "type": "quantitative", "scale": {"domain": [-1, 39], "reverse": true, "nice": false, "zero": false}, "axis": null},
                      "detail": {"field": "edge"}}},
        {"data": {"values": [{}]},
         "mark": {"type": "text", "align": "left", "baseline": "middle", "fontSize": 34, "fontStyle": "italic", "font": "Liberation Serif", "color": "black", "text": "σ"},
         "encoding": {"x": {"datum": 339000, "type": "quantitative", "scale": {"type": "log", "domain": [9.51e-5, 2.449e7], "nice": false, "zero": false}, "axis": null},
                      "y": {"datum": 41.99, "type": "quantitative", "scale": {"domain": [-1, 39], "reverse": true, "nice": false, "zero": false}, "axis": null}}},
        {"data": {"values": [{}]},
         "mark": {"type": "text", "align": "left", "baseline": "middle", "fontSize": 33, "color": "black", "text": "[pb]"},
         "encoding": {"x": {"datum": 1047000, "type": "quantitative", "scale": {"type": "log", "domain": [9.51e-5, 2.449e7], "nice": false, "zero": false}, "axis": null},
                      "y": {"datum": 41.99, "type": "quantitative", "scale": {"domain": [-1, 39], "reverse": true, "nice": false, "zero": false}, "axis": null}}}
      ]
    },
    {
      "width": 180, "height": 735,
      "view": {"stroke": "transparent", "fill": "transparent"},
      "resolve": {"axis": {"x": "independent"}},
      "layer": [
        {"data": {"name": "xs"},
         "transform": [{"aggregate": [{"op": "max", "field": "row", "as": "last"}], "groupby": ["proc", "sub", "note"]}, {"filter": "datum.last < 38"}],
         "mark": {"type": "rule", "color": "#dadada", "strokeWidth": 2, "yOffset": 9.19},
         "encoding": {"y": {"field": "last", "type": "quantitative", "scale": {"domain": [-1, 39], "reverse": true, "nice": false, "zero": false}, "axis": null}}},
        {"data": {"name": "xs"},
         "mark": {"type": "bar", "orient": "horizontal", "size": 18.4, "color": "#a9a9a9"},
         "encoding": {"x": {"field": "th_rlo", "type": "quantitative", "scale": {"domain": [0.144, 2.787], "nice": false, "zero": false},
                            "axis": {"orient": "top", "values": [0.3,0.4,0.5,0.6,0.7,0.8,0.9,1,1.1,1.2,1.3,1.4,1.5,1.6,1.7,1.8,1.9,2,2.1,2.2,2.3,2.4,2.5,2.6,2.7],
                                     "domain": false, "grid": false, "labels": false, "title": null, "tickColor": "black", "tickWidth": 1.2,
                                     "tickSize": {"condition": {"test": "abs(datum.value*2 - round(datum.value*2)) < 0.01", "value": -8.5}, "value": -4.5}}},
                      "x2": {"field": "th_rhi"},
                      "y": {"field": "row", "type": "quantitative", "scale": {"domain": [-1, 39], "reverse": true, "nice": false, "zero": false}, "axis": null}}},
        {"data": {"name": "xs"},
         "mark": {"type": "bar", "orient": "horizontal", "size": 12},
         "encoding": {"x": {"field": "tot_rlo", "type": "quantitative", "scale": {"domain": [0.144, 2.787], "nice": false, "zero": false}, "axis": null},
                      "x2": {"field": "tot_rhi"},
                      "y": {"field": "row", "type": "quantitative", "scale": {"domain": [-1, 39], "reverse": true, "nice": false, "zero": false}, "axis": null},
                      "color": {"condition": [{"test": "datum.E === '13.6'", "value": "#d6b03c"}, {"test": "datum.E === '5'", "value": "#9ac31e"}], "value": "#c81ec8"}}},
        {"data": {"name": "xs"},
         "mark": {"type": "bar", "orient": "horizontal", "size": 12},
         "encoding": {"x": {"field": "st_rlo", "type": "quantitative", "scale": {"domain": [0.144, 2.787], "nice": false, "zero": false}, "axis": null},
                      "x2": {"field": "st_rhi"},
                      "y": {"field": "row", "type": "quantitative", "scale": {"domain": [-1, 39], "reverse": true, "nice": false, "zero": false}, "axis": null},
                      "color": {"condition": [{"test": "datum.E === '13.6'", "value": "#9a6414"}, {"test": "datum.E === '5'", "value": "#0a9a50"}], "value": "#8a0a8a"}}},
        {"data": {"values": [{}]},
         "mark": {"type": "rule", "color": "#555555", "strokeWidth": 1.4},
         "encoding": {"x": {"datum": 1, "type": "quantitative", "scale": {"domain": [0.144, 2.787], "nice": false, "zero": false}, "axis": null},
                      "y": {"datum": -1, "type": "quantitative", "scale": {"domain": [-1, 39], "reverse": true, "nice": false, "zero": false}, "axis": null}, "y2": {"datum": 39}}},
        {"data": {"name": "xs"},
         "mark": {"type": "point", "filled": true, "fill": "white", "stroke": "black", "strokeWidth": 2.3, "opacity": 1},
         "encoding": {"x": {"field": "ratio", "type": "quantitative", "scale": {"domain": [0.144, 2.787], "nice": false, "zero": false},
                            "axis": {"orient": "bottom", "values": [0.3,0.4,0.5,0.6,0.7,0.8,0.9,1,1.1,1.2,1.3,1.4,1.5,1.6,1.7,1.8,1.9,2,2.1,2.2,2.3,2.4,2.5,2.6,2.7],
                                     "domain": false, "grid": false, "title": null, "tickColor": "black", "tickWidth": 1.2,
                                     "tickSize": {"condition": {"test": "abs(datum.value*2 - round(datum.value*2)) < 0.01", "value": -8.5}, "value": -4.5},
                                     "labelExpr": "abs(datum.value*2 - round(datum.value*2)) < 0.01 ? format(datum.value, '.1f') : ''",
                                     "labelFont": "Liberation Sans Narrow, Liberation Sans", "labelFontSize": 22, "labelColor": "black", "labelPadding": 17, "labelOverlap": false, "labelFlush": false, "labelBound": false}},
                      "y": {"field": "row", "type": "quantitative", "scale": {"domain": [-1, 39], "reverse": true, "nice": false, "zero": false}, "axis": null},
                      "shape": {"field": "E", "type": "nominal", "scale": {"domain": ["13.6", "13", "5"], "range": ["diamond", "square", "triangle-down"]}, "legend": null},
                      "size": {"field": "E", "type": "nominal", "scale": {"domain": ["13.6", "13", "5"], "range": [60, 40, 48]}, "legend": null}}},
        {"data": {"values": [{}]},
         "mark": {"type": "rect", "fill": "transparent", "stroke": "black", "strokeWidth": 2},
         "encoding": {"x": {"datum": 0.295, "type": "quantitative", "scale": {"domain": [0.144, 2.787], "nice": false, "zero": false}, "axis": null}, "x2": {"datum": 2.787},
                      "y": {"datum": -1, "type": "quantitative", "scale": {"domain": [-1, 39], "reverse": true, "nice": false, "zero": false}, "axis": null}, "y2": {"datum": 39}}},
        {"data": {"values": [{}]},
         "mark": {"type": "text", "align": "left", "baseline": "alphabetic", "fontSize": 16.2, "fontStyle": "italic", "color": "#4d4d4d", "text": "Status:"},
         "encoding": {"x": {"datum": 0.638, "type": "quantitative", "scale": {"domain": [0.144, 2.787], "nice": false, "zero": false}, "axis": null},
                      "y": {"datum": -2.4, "type": "quantitative", "scale": {"domain": [-1, 39], "reverse": true, "nice": false, "zero": false}, "axis": null}}},
        {"data": {"values": [{}]},
         "mark": {"type": "text", "align": "left", "baseline": "alphabetic", "fontSize": 16.2, "fontStyle": "italic", "color": "#4d4d4d", "text": "October 2023"},
         "encoding": {"x": {"datum": 0.638, "type": "quantitative", "scale": {"domain": [0.144, 2.787], "nice": false, "zero": false}, "axis": null},
                      "y": {"datum": -1.37, "type": "quantitative", "scale": {"domain": [-1, 39], "reverse": true, "nice": false, "zero": false}, "axis": null}}},
        {"data": {"values": [{}]},
         "mark": {"type": "text", "align": "left", "baseline": "middle", "fontSize": 33, "color": "black", "text": "data/theory"},
         "encoding": {"x": {"datum": 0.217, "type": "quantitative", "scale": {"domain": [0.144, 2.787], "nice": false, "zero": false}, "axis": null},
                      "y": {"datum": 41.99, "type": "quantitative", "scale": {"domain": [-1, 39], "reverse": true, "nice": false, "zero": false}, "axis": null}}}
      ]
    },
    {
      "width": 190, "height": 735,
      "view": {"stroke": "transparent", "fill": "transparent"},
      "layer": [
        {"data": {"name": "xs"},
         "transform": [{"aggregate": [{"op": "max", "field": "row", "as": "last"}], "groupby": ["proc", "sub", "note"]}, {"filter": "datum.last < 38"}],
         "mark": {"type": "rule", "color": "#dadada", "strokeWidth": 2, "yOffset": 9.19},
         "encoding": {"y": {"field": "last", "type": "quantitative", "scale": {"domain": [-1, 39], "reverse": true, "nice": false, "zero": false}, "axis": null}}},
        {"data": {"name": "xs"},
         "mark": {"type": "text", "align": "center", "baseline": "middle", "fontSize": 12.5, "color": "#1a1a1a"},
         "encoding": {"x": {"datum": 0.1526, "type": "quantitative", "scale": {"domain": [0, 1], "nice": false, "zero": false}, "axis": null},
                      "y": {"field": "row", "type": "quantitative", "scale": {"domain": [-1, 39], "reverse": true, "nice": false, "zero": false}, "axis": null},
                      "text": {"field": "lumi"}}},
        {"data": {"name": "xs"},
         "mark": {"type": "text", "align": "left", "baseline": "middle", "fontSize": 6.8, "color": "#4040e0"},
         "encoding": {"x": {"datum": 0.3384, "type": "quantitative", "scale": {"domain": [0, 1], "nice": false, "zero": false}, "axis": null},
                      "y": {"field": "row", "type": "quantitative", "scale": {"domain": [-1, 39], "reverse": true, "nice": false, "zero": false}, "axis": null},
                      "text": {"field": "ref"}}},
        {"data": {"values": [{}]},
         "mark": {"type": "text", "align": "center", "baseline": "alphabetic", "fontSize": 18, "fontWeight": "bold", "font": "DejaVu Serif", "color": "black", "text": "∫ℒ dt"},
         "encoding": {"x": {"datum": 0.153, "type": "quantitative", "scale": {"domain": [0, 1], "nice": false, "zero": false}, "axis": null},
                      "y": {"datum": -2.018, "type": "quantitative", "scale": {"domain": [-1, 39], "reverse": true, "nice": false, "zero": false}, "axis": null}}},
        {"data": {"values": [{}]},
         "mark": {"type": "text", "align": "center", "baseline": "alphabetic", "fontSize": 17, "fontWeight": "bold", "font": "DejaVu Serif", "color": "black", "text": "[fb⁻¹]"},
         "encoding": {"x": {"datum": 0.153, "type": "quantitative", "scale": {"domain": [0, 1], "nice": false, "zero": false}, "axis": null},
                      "y": {"datum": -0.744, "type": "quantitative", "scale": {"domain": [-1, 39], "reverse": true, "nice": false, "zero": false}, "axis": null}}},
        {"data": {"values": [{}]},
         "mark": {"type": "text", "align": "center", "baseline": "alphabetic", "fontSize": 16.2, "fontWeight": "bold", "color": "black", "text": "Reference"},
         "encoding": {"x": {"datum": 0.62, "type": "quantitative", "scale": {"domain": [0, 1], "nice": false, "zero": false}, "axis": null},
                      "y": {"datum": -1.327, "type": "quantitative", "scale": {"domain": [-1, 39], "reverse": true, "nice": false, "zero": false}, "axis": null}}}
      ]
    }
  ]
}
